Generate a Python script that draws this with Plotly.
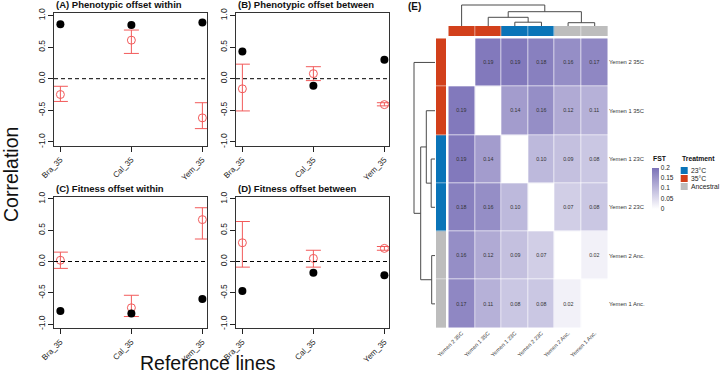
import plotly.graph_objects as go

W, H = 720, 375
def px(x): return x / W
def py(y): return 1 - y / H

FONT = "Liberation Sans, Arial, Helvetica, sans-serif"

# ---------------- data: panels A-D ----------------
refs = ["Bra_35", "Cal_35", "Yem_35"]

A_obs = [0.86, 0.85, 0.89]
A_mean = [-0.25, 0.61, -0.62]
A_lo = [-0.36, 0.40, -0.79]
A_hi = [-0.12, 0.77, -0.38]

B_obs = [0.43, -0.11, 0.30]
B_mean = [-0.16, 0.08, -0.41]
B_lo = [-0.51, -0.03, -0.43]
B_hi = [0.23, 0.19, -0.38]

C_obs = [-0.79, -0.83, -0.60]
C_mean = [0.02, -0.74, 0.67]
C_lo = [-0.11, -0.88, 0.36]
C_hi = [0.15, -0.54, 0.86]

D_obs = [-0.47, -0.18, -0.22]
D_mean = [0.30, 0.05, 0.21]
D_lo = [-0.09, -0.09, 0.18]
D_hi = [0.64, 0.18, 0.24]

panel_titles = ["(A) Phenotypic offset within", "(B) Phenotypic offset between",
                "(C) Fitness offset within", "(D) Fitness offset between"]
y_ticks = [-1.0, -0.5, 0.0, 0.5, 1.0]
y_ticktext = ["-1.0", "-0.5", "0.0", "0.5", "1.0"]

# ---------------- data: panel E ----------------
pops = ["Yemen 2 35C", "Yemen 1 35C", "Yemen 1 23C", "Yemen 2 23C", "Yemen 2 Anc.", "Yemen 1 Anc."]
pop_treatment = ["35°C", "35°C", "23°C", "23°C", "Ancestral", "Ancestral"]
fst = [
    [None, 0.19, 0.19, 0.18, 0.16, 0.17],
    [0.19, None, 0.14, 0.16, 0.12, 0.11],
    [0.19, 0.14, None, 0.10, 0.09, 0.08],
    [0.18, 0.16, 0.10, None, 0.07, 0.08],
    [0.16, 0.12, 0.09, 0.07, None, 0.02],
    [0.17, 0.11, 0.08, 0.08, 0.02, None],
]
# hierarchical clustering merges: (child a, child b, height); new nodes numbered from 6
merges = [(2, 3, 0.038), (4, 5, 0.033), (1, 6, 0.087), (8, 7, 0.143), (0, 9, 0.210)]
treatments = ["23°C", "35°C", "Ancestral"]
treat_colors = ["#0A74B8", "#D2401B", "#BDBDBD"]
fst_ticks = [0, 0.05, 0.1, 0.15, 0.2]
fst_ticktext = ["0", "0.05", "0.1", "0.15", "0.2"]

RED = "#F25A5A"

fig = go.Figure()
layout = dict(width=W, height=H, margin=dict(l=0, r=0, t=0, b=0, autoexpand=False),
              paper_bgcolor="white", plot_bgcolor="white", showlegend=False,
              font=dict(family=FONT, color="#111"))

boxes = [(54, 207, 13.3, 146.0), (236, 389, 13.3, 146.0),
         (54, 207, 196.8, 328.1), (236, 389, 196.8, 328.1)]
panels = [(A_obs, A_mean, A_lo, A_hi), (B_obs, B_mean, B_lo, B_hi),
          (C_obs, C_mean, C_lo, C_hi), (D_obs, D_mean, D_lo, D_hi)]
shapes = []
annotations = []
xs = list(range(len(refs)))
for i, ((obs, mean, lo, hi), (x0, x1, y0, y1)) in enumerate(zip(panels, boxes), start=1):
    key = "" if i == 1 else str(i)
    xa, ya = f"x{key}", f"y{key}"
    fig.add_trace(go.Scatter(
        x=xs, y=mean, mode="markers", xaxis=xa, yaxis=ya,
        marker=dict(symbol="circle-open", size=8, color=RED, line=dict(width=1, color=RED)),
        error_y=dict(type="data", symmetric=False,
                     array=[h - m for h, m in zip(hi, mean)],
                     arrayminus=[m - l for m, l in zip(mean, lo)],
                     color=RED, thickness=1, width=7.5),
        cliponaxis=False))
    fig.add_trace(go.Scatter(
        x=xs, y=obs, mode="markers", xaxis=xa, yaxis=ya,
        marker=dict(symbol="circle", size=8, color="black"), cliponaxis=False))
    layout[f"xaxis{key}"] = dict(
        domain=[px(x0), px(x1)], range=[-0.09, 2.065], anchor=ya,
        tickvals=xs, ticktext=refs, tickangle=-45, ticks="outside", ticklen=5,
        tickcolor="#222", tickfont=dict(size=8, color="#222"),
        showline=True, mirror=True, linecolor="#333", linewidth=1,
        showgrid=False, zeroline=False, fixedrange=True, automargin=False)
    layout[f"yaxis{key}"] = dict(
        domain=[py(y1), py(y0)], range=[-1.065, 1.035], anchor=xa,
        tickvals=y_ticks, ticktext=y_ticktext, tickangle=-90, ticks="outside",
        ticklen=5, tickcolor="#222", tickfont=dict(size=8.5, color="#222"),
        showline=True, mirror=True, linecolor="#333", linewidth=1,
        showgrid=False, zeroline=False, fixedrange=True, automargin=False)
    shapes.append(dict(type="line", xref=f"{xa} domain", yref=ya, x0=0, x1=1, y0=0, y1=0,
                       line=dict(color="black", width=1, dash="4px,3px")))
    annotations.append(dict(text=f"<b>{panel_titles[i-1]}</b>", x=px(x0), y=py(y0 - 8.3),
                            xref="paper", yref="paper", xanchor="left", yanchor="middle",
                            showarrow=False, font=dict(size=9.5, color="#111")))

annotations.append(dict(text="Correlation", x=px(11), y=py(175), xref="paper", yref="paper",
                        textangle=-90, showarrow=False, font=dict(size=19.5, color="#111"),
                        xanchor="center", yanchor="middle"))
annotations.append(dict(text="Reference lines", x=px(208), y=py(363), xref="paper", yref="paper",
                        showarrow=False, font=dict(size=19.5, color="#111"),
                        xanchor="center", yanchor="middle"))

# ---------------- panel E: heatmap ----------------
n = len(pops)
hm_x0, hm_x1, hm_y0, hm_y1 = 448.3, 608.0, 38.3, 328.0
cell_text = [["" if v is None else f"{v:.2f}" for v in row] for row in fst]
fig.add_trace(go.Heatmap(
    z=fst, x=list(range(n)), y=list(range(n)), text=cell_text, texttemplate="%{text}",
    textfont=dict(size=5.3, color="#333", family=FONT),
    colorscale=[[0, "#FFFFFF"], [1, "#7B72B8"]], zmin=0, zmax=0.2,
    xgap=0.7, ygap=0.7, xaxis="x5", yaxis="y5", hoverinfo="skip",
    colorbar=dict(x=px(651.7), xanchor="left", y=py(167.5), yanchor="top",
                  len=40.5, lenmode="pixels", thickness=7, thicknessmode="pixels",
                  outlinewidth=0, ticks="", tickvals=fst_ticks, ticktext=fst_ticktext,
                  tickfont=dict(size=6.5, color="#222"), xpad=0, ypad=0)))
layout["xaxis5"] = dict(domain=[px(hm_x0), px(hm_x1)], range=[-0.5, n - 0.5], anchor="y5",
                        tickvals=list(range(n)), ticktext=pops, tickangle=-45, ticks="",
                        tickfont=dict(size=5.5, color="#333"), showgrid=False, zeroline=False,
                        showline=False, fixedrange=True, automargin=False)
layout["yaxis5"] = dict(domain=[py(hm_y1), py(hm_y0)], range=[n - 0.5, -0.5], anchor="x5",
                        side="right", tickvals=list(range(n)), ticktext=pops, ticks="",
                        tickfont=dict(size=5.8, color="#333"), showgrid=False, zeroline=False,
                        showline=False, fixedrange=True, automargin=False)

# treatment annotation bars
codes = [treatments.index(t) for t in pop_treatment]
tcs = [[0, treat_colors[0]], [0.5, treat_colors[1]], [1, treat_colors[2]]]
fig.add_trace(go.Heatmap(z=[codes], x=list(range(n)), y=[0], colorscale=tcs, zmin=0, zmax=2,
                         showscale=False, xgap=0.5, xaxis="x6", yaxis="y6", hoverinfo="skip"))
layout["xaxis6"] = dict(domain=[px(hm_x0), px(hm_x1)], range=[-0.5, n - 0.5], anchor="y6",
                        visible=False, fixedrange=True)
layout["yaxis6"] = dict(domain=[py(36), py(26)], range=[-0.5, 0.5], anchor="x6",
                        visible=False, fixedrange=True)
fig.add_trace(go.Heatmap(z=[[c] for c in codes], x=[0], y=list(range(n)), colorscale=tcs,
                         zmin=0, zmax=2, showscale=False, ygap=0.5, xaxis="x7", yaxis="y7",
                         hoverinfo="skip"))
layout["xaxis7"] = dict(domain=[px(436), px(446)], range=[-0.5, 0.5], anchor="y7",
                        visible=False, fixedrange=True)
layout["yaxis7"] = dict(domain=[py(hm_y1), py(hm_y0)], range=[n - 0.5, -0.5], anchor="x7",
                        visible=False, fixedrange=True)

# dendrograms computed from the merge table
pos = {i: float(i) for i in range(n)}
hgt = {i: 0.0 for i in range(n)}
dpos, dh = [], []
for k, (a, b, h) in enumerate(merges):
    node = n + k
    dpos += [pos[a], pos[a], pos[b], pos[b], None]
    dh += [hgt[a], h, h, hgt[b], None]
    pos[node] = (pos[a] + pos[b]) / 2
    hgt[node] = h
DCOL = "#4A4A4A"
fig.add_trace(go.Scatter(x=dpos, y=dh, mode="lines", line=dict(color=DCOL, width=1),
                         xaxis="x8", yaxis="y8", hoverinfo="skip", cliponaxis=False))
layout["xaxis8"] = dict(domain=[px(hm_x0), px(hm_x1)], range=[-0.5, n - 0.5], anchor="y8",
                        visible=False, fixedrange=True)
layout["yaxis8"] = dict(domain=[py(26), py(4)], range=[0, 0.22], anchor="x8",
                        visible=False, fixedrange=True)
fig.add_trace(go.Scatter(x=dh, y=dpos, mode="lines", line=dict(color=DCOL, width=1),
                         xaxis="x9", yaxis="y9", hoverinfo="skip", cliponaxis=False))
layout["xaxis9"] = dict(domain=[px(413), px(435)], range=[0.22, 0], anchor="y9",
                        visible=False, fixedrange=True)
layout["yaxis9"] = dict(domain=[py(hm_y1), py(hm_y0)], range=[n - 0.5, -0.5], anchor="x9",
                        visible=False, fixedrange=True)

annotations.append(dict(text="<b>(E)</b>", x=px(406), y=py(6), xref="paper", yref="paper",
                        xanchor="left", yanchor="middle", showarrow=False,
                        font=dict(size=10, color="#111")))
annotations.append(dict(text="<b>FST</b>", x=px(651), y=py(159), xref="paper", yref="paper",
                        xanchor="left", yanchor="middle", showarrow=False,
                        font=dict(size=6.8, color="#111")))
annotations.append(dict(text="<b>Treatment</b>", x=px(680), y=py(159), xref="paper", yref="paper",
                        xanchor="left", yanchor="middle", showarrow=False,
                        font=dict(size=6.8, color="#111")))
for j, (t, c) in enumerate(zip(treatments, treat_colors)):
    yc = 170.5 + 8 * j
    shapes.append(dict(type="rect", xref="paper", yref="paper",
                       x0=px(680.7), x1=px(687.7), y0=py(yc + 3.5), y1=py(yc - 3.5),
                       fillcolor=c, line=dict(width=0)))
    annotations.append(dict(text=t, x=px(689.3), y=py(yc), xref="paper", yref="paper",
                            xanchor="left", yanchor="middle", showarrow=False,
                            font=dict(size=6.8, color="#222")))

layout["shapes"] = shapes
layout["annotations"] = annotations
fig.update_layout(**layout)
fig.write_html("out.html", config={"displayModeBar": False},
               post_script="document.body.style.margin='0';")
